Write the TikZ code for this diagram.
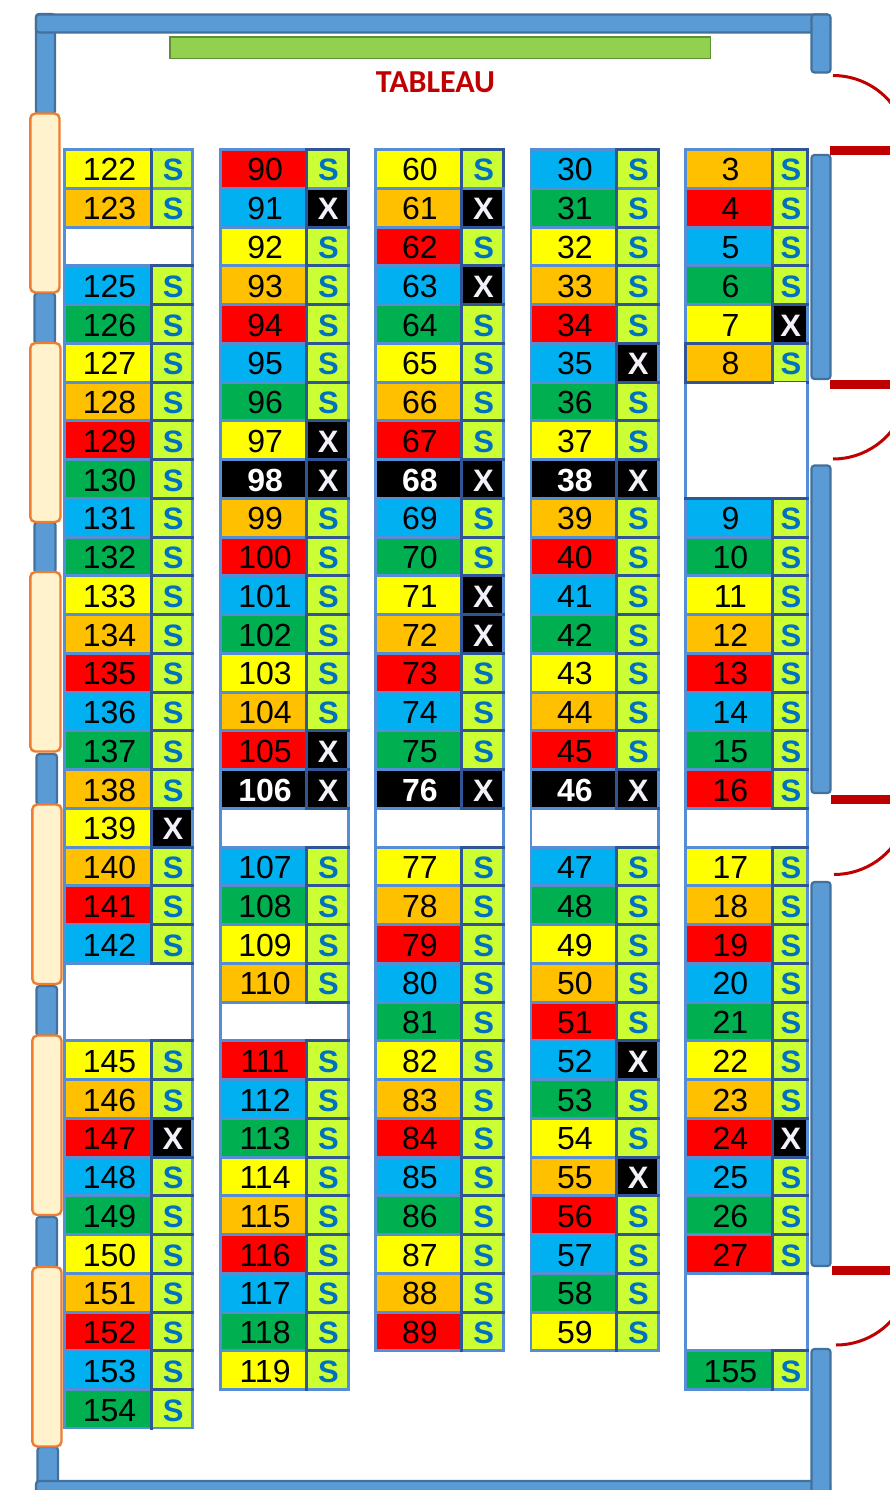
\documentclass[tikz,border=0pt]{standalone}
\usepackage{fontspec}
\setmainfont{Liberation Sans}
\newfontfamily\tabfont{Carlito}
\definecolor{fY}{HTML}{FFFF00}
\definecolor{fO}{HTML}{FFC000}
\definecolor{fR}{HTML}{FF0000}
\definecolor{fB}{HTML}{00B0F0}
\definecolor{fG}{HTML}{00B050}
\definecolor{limeS}{HTML}{CCFF33}
\definecolor{textS}{HTML}{0070C0}
\definecolor{textX}{HTML}{F4F0FA}
\definecolor{gridL}{HTML}{558ED5}
\definecolor{gridD}{HTML}{2F5597}
\definecolor{wallF}{HTML}{5B9BD5}
\definecolor{wallD}{HTML}{41719C}
\definecolor{creamF}{HTML}{FFF2CC}
\definecolor{creamD}{HTML}{ED7D31}
\definecolor{boardF}{HTML}{92D050}
\definecolor{boardD}{HTML}{5E8F36}
\definecolor{doorR}{HTML}{C00000}
\tikzset{
  x=1pt,y=-1pt,
  numcell/.style={inner sep=0pt,minimum height=35.6pt,text height=24pt,text depth=0pt,font=\fontsize{32}{32}\selectfont,text=black,execute at begin node={\hspace*{2.8pt}}},
  seatcell/.style={inner sep=0pt,minimum height=35.6pt,text height=24pt,text depth=0pt,font=\fontsize{31}{31}\selectfont\bfseries},
  fillY/.style={fill=fY},fillO/.style={fill=fO},fillR/.style={fill=fR},fillB/.style={fill=fB},fillG/.style={fill=fG},
  fillK/.style={fill=black,text=white,font=\fontsize{32}{32}\selectfont\bfseries},
  seatS/.style={fill=limeS,text=textS,execute at begin node={\hspace*{2pt}S}},
  seatX/.style={fill=black,text=textX,execute at begin node={\hspace*{1.4pt}X}},
  blankrow/.style={inner sep=0pt,minimum height=35.6pt,fill=white},
  wall/.style={fill=wallF,draw=wallD,line width=2.2pt,rounded corners=3pt},
  panel/.style={fill=creamF,draw=creamD,line width=2.4pt,rounded corners=5pt},
  redbar/.style={fill=doorR,draw=none},
  doorarc/.style={draw=doorR,line width=3pt},
}
\def\NN{N}
% #1 id, #2 cell left, #3 cell right, #4 seat left, #5 seat right, #6 list macro
\newcommand{\seatcol}[6]{%
  \foreach \num/\colr/\state [count=\i from 0] in #6{%
    \pgfmathsetmacro\cy{169+38.75*\i}%
    \ifx\state\NN\else
      \fill[gridD] ({#3},{\cy-19.5}) rectangle ({#4},{\cy+20.8});
      \fill[gridD] ({#3},{\cy-21}) rectangle ({#5+3},{\cy-17.8});
      \fill[gridD] ({#3},{\cy+17.8}) rectangle ({#5+3},{\cy+20.8});
    \fi
  }%
}
\newcommand{\seatcells}[6]{%
  \foreach \num/\colr/\state [count=\i from 0] in #6{%
    \pgfmathsetmacro\cy{169+38.75*\i}%
    \ifx\state\NN
      \node[blankrow,minimum width={#5-#2}] (blank#1-\i) at ({(#2+#5)/2},\cy) {};
    \else
      \node[numcell,fill\colr,minimum width={#3-#2}] (n\num) at ({(#2+#3)/2},\cy) {\num};
      \node[seatcell,seat\state,minimum width={#5-#4}] (s\num) at ({(#4+#5)/2},\cy) {};
    \fi
  }%
}
\def\lista{122/Y/S,123/O/S,x/W/N,125/B/S,126/G/S,127/Y/S,128/O/S,129/R/S,130/G/S,131/B/S,132/G/S,133/Y/S,134/O/S,135/R/S,136/B/S,137/G/S,138/O/S,139/Y/X,140/O/S,141/R/S,142/B/S,x/W/N,x/W/N,145/Y/S,146/O/S,147/R/X,148/B/S,149/G/S,150/Y/S,151/O/S,152/R/S,153/B/S,154/G/S}
\def\listb{90/R/S,91/B/X,92/Y/S,93/O/S,94/R/S,95/B/S,96/G/S,97/Y/X,98/K/X,99/O/S,100/R/S,101/B/S,102/G/S,103/Y/S,104/O/S,105/R/X,106/K/X,x/W/N,107/B/S,108/G/S,109/Y/S,110/O/S,x/W/N,111/R/S,112/B/S,113/G/S,114/Y/S,115/O/S,116/R/S,117/B/S,118/G/S,119/Y/S}
\def\listc{60/Y/S,61/O/X,62/R/S,63/B/X,64/G/S,65/Y/S,66/O/S,67/R/S,68/K/X,69/B/S,70/G/S,71/Y/X,72/O/X,73/R/S,74/B/S,75/G/S,76/K/X,x/W/N,77/Y/S,78/O/S,79/R/S,80/B/S,81/G/S,82/Y/S,83/O/S,84/R/S,85/B/S,86/G/S,87/Y/S,88/O/S,89/R/S}
\def\listd{30/B/S,31/G/S,32/Y/S,33/O/S,34/R/S,35/B/X,36/G/S,37/Y/S,38/K/X,39/O/S,40/R/S,41/B/S,42/G/S,43/Y/S,44/O/S,45/R/S,46/K/X,x/W/N,47/B/S,48/G/S,49/Y/S,50/O/S,51/R/S,52/B/X,53/G/S,54/Y/S,55/O/X,56/R/S,57/B/S,58/G/S,59/Y/S}
\def\liste{3/O/S,4/R/S,5/B/S,6/G/S,7/Y/X,8/O/S,x/W/N,x/W/N,x/W/N,9/B/S,10/G/S,11/Y/S,12/O/S,13/R/S,14/B/S,15/G/S,16/R/S,x/W/N,17/Y/S,18/O/S,19/R/S,20/B/S,21/G/S,22/Y/S,23/O/S,24/R/X,25/B/S,26/G/S,27/R/S,x/W/N,x/W/N,155/G/S}
\begin{document}
\begin{tikzpicture}
\useasboundingbox (0,0) rectangle (890,1490);
\clip (0,0) rectangle (890,1490);
\fill[white] (0,0) rectangle (890,1490);
% walls
\draw[wall] (36,14) rectangle (55,114);
\draw[wall] (34.5,293) rectangle (55,344);
\draw[wall] (34.5,522) rectangle (55.5,573);
\draw[wall] (36.5,754) rectangle (57,805);
\draw[wall] (36.5,986) rectangle (57,1036);
\draw[wall] (36.5,1217) rectangle (57,1268);
\draw[wall] (37.5,1447) rectangle (58,1484);
\draw[wall] (36,1481) rectangle (830,1495);
\draw[wall] (36,14.5) rectangle (830,32.5);
\draw[wall] (811.5,14.5) rectangle (830.5,72.5);
\draw[wall] (811.5,155) rectangle (830.5,379);
\draw[wall] (811.5,465.5) rectangle (830.5,793);
\draw[wall] (811.5,882) rectangle (830.5,1266);
\draw[wall] (811.5,1349) rectangle (830.5,1500);
% panels
\draw[panel] (30.3,113.5) rectangle (59.5,292.5);
\draw[panel] (30.3,343) rectangle (60.5,522);
\draw[panel] (30.3,572) rectangle (60.5,751.5);
\draw[panel] (32.3,804.5) rectangle (61.5,984);
\draw[panel] (32.3,1035.5) rectangle (61.5,1215);
\draw[panel] (32.3,1267) rectangle (61.5,1446.5);
% board
\draw[fill=boardF,draw=boardD,line width=1.5pt] (170,37) rectangle (710.5,58.5);
\node[text=doorR,font=\tabfont\bfseries\fontsize{32}{32}\selectfont,inner sep=0pt] (tableau) at (435.5,82) {TABLEAU};
% doors
\fill[redbar] (830,146) rectangle (895,155);
\fill[redbar] (829.5,380) rectangle (895,389);
\fill[redbar] (831,795) rectangle (895,804);
\fill[redbar] (832,1266) rectangle (895,1275);
\draw[doorarc] (833,75.5) arc[start angle=-90,end angle=-20,radius=75];
\draw[doorarc] (833,459) arc[start angle=90,end angle=20,radius=75];
\draw[doorarc] (834,874.5) arc[start angle=90,end angle=20,radius=75];
\draw[doorarc] (836,1345) arc[start angle=90,end angle=20,radius=75];
% seat blocks: backing
\fill[gridL] (63,148) rectangle (194,1428.5);
\fill[gridL] (219,148) rectangle (350,1391.05);
\fill[gridL] (374,148) rectangle (505,1352.3);
\fill[gridL] (529.5,148) rectangle (660,1352.3);
\fill[gridL] (684,148) rectangle (809,1391.05);
\seatcol{a}{66}{150.3}{153}{191.3}{\lista}
\seatcol{b}{222}{305.3}{308}{347}{\listb}
\seatcol{c}{377}{460}{463}{502.3}{\listc}
\seatcol{d}{532}{615}{618.3}{656.7}{\listd}
\seatcol{e}{687}{771}{774}{806}{\liste}
% line exceptions
\foreach \xa/\xb in {153/194,308/350,463/505,618.3/660,774/809}{
  \fill[gridL] (\xa,186.8) rectangle (\xb,190.2);}
\fill[gridL] (152,148) rectangle (194,151.2);
\fill[gridD] (347,148) rectangle (350,187);
\fill[gridD] (502.3,148) rectangle (505,187);
\fill[gridD] (656.7,148) rectangle (660,187);
\fill[gridD] (806,148) rectangle (809,187);
\fill[white] (153,1428.5) rectangle (195,1431);
\fill[gridL] (153,1426.8) rectangle (194,1428.5);
\fill[gridL] (308,1388) rectangle (350,1391.1);
\fill[gridL] (463,1349.3) rectangle (505,1352.4);
\fill[gridL] (618.3,1349.3) rectangle (660,1352.4);
\fill[gridL] (774,1388) rectangle (809,1391.1);
\fill[gridD] (684,341.8) rectangle (809,345);
\fill[gridD] (684,345) rectangle (687,384);
\fill[gridD] (684,380.8) rectangle (774,384);
\fill[gridD] (684,496.8) rectangle (809,500);
\seatcells{a}{66}{150.3}{153}{191.3}{\lista}
\seatcells{b}{222}{305.3}{308}{347}{\listb}
\seatcells{c}{377}{460}{463}{502.3}{\listc}
\seatcells{d}{532}{615}{618.3}{656.7}{\listd}
\seatcells{e}{687}{771}{774}{806}{\liste}
% merged blank runs and the open edge under seat 8
\fill[white] (66,995) rectangle (191.3,1010);
\fill[white] (687,410) rectangle (806,430);
\fill[white] (687,450) rectangle (806,470);
\fill[white] (687,1305) rectangle (806,1320);
\fill[white] (774,381.8) rectangle (806,385);
\end{tikzpicture}
\end{document}
